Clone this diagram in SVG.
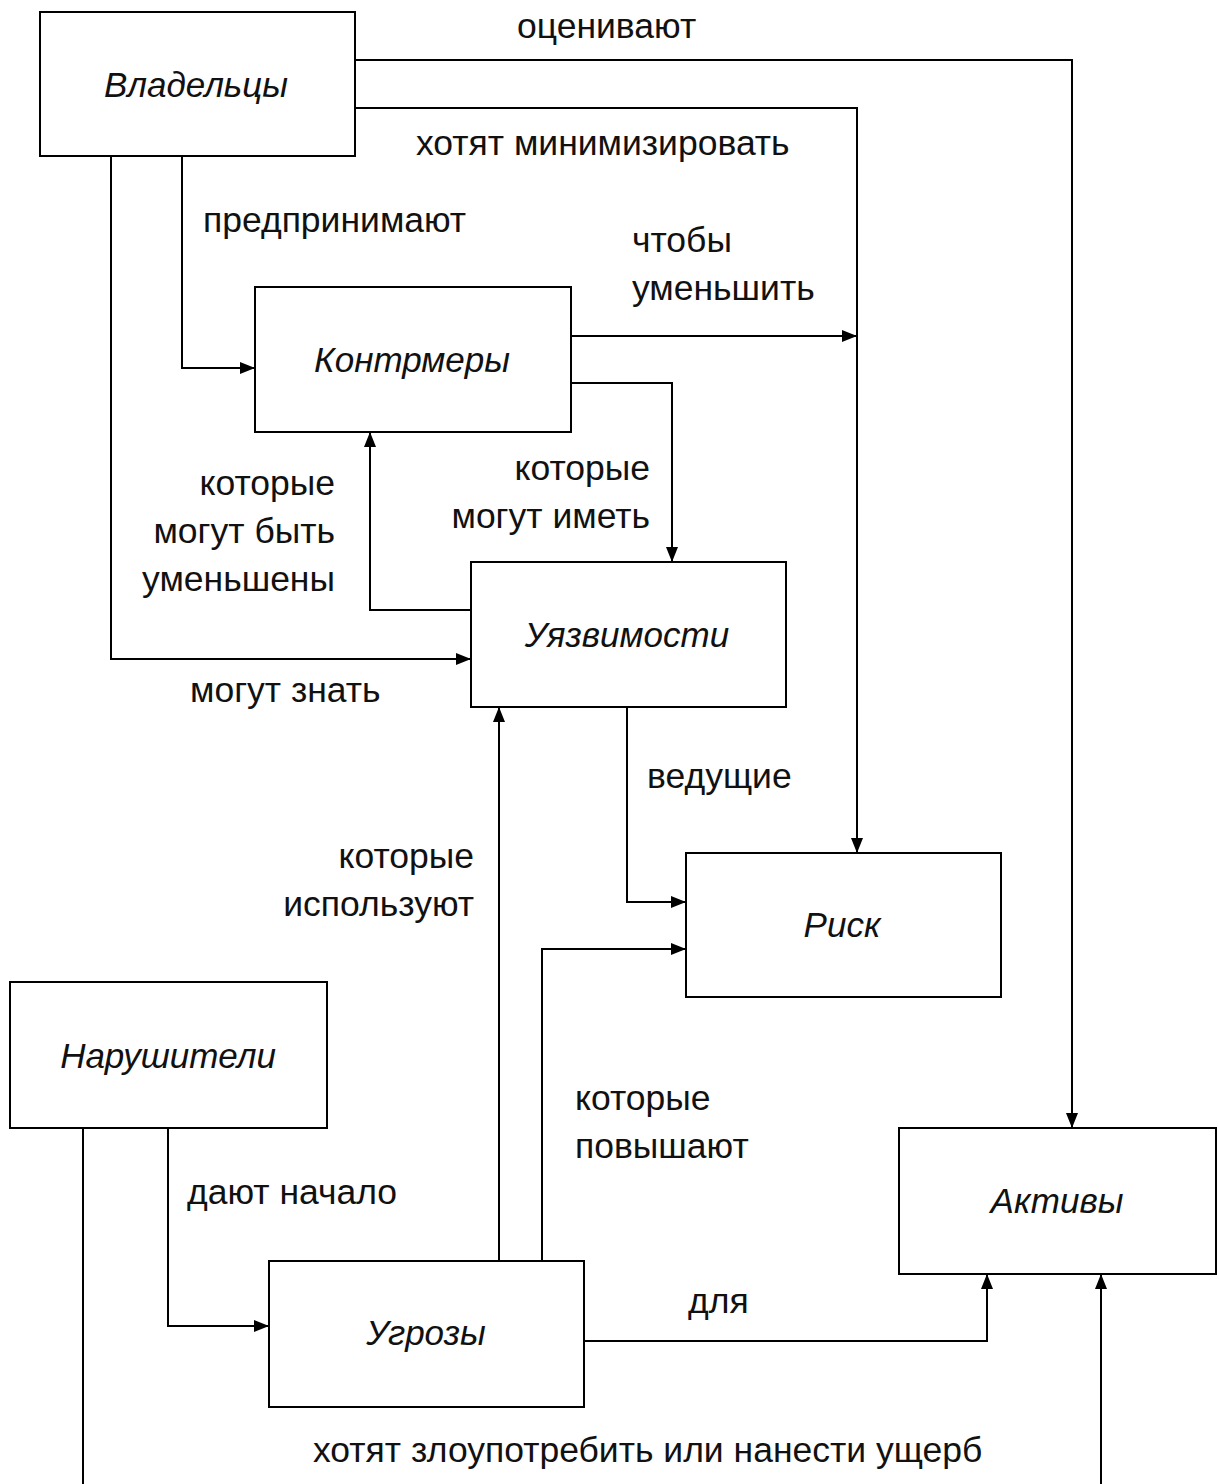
<svg xmlns="http://www.w3.org/2000/svg" width="1219" height="1484" viewBox="0 0 1219 1484">
<style>
.box{fill:#fff;stroke:#000;stroke-width:2}
.node{font-family:"Liberation Sans",Arial,sans-serif;font-style:italic;font-size:35px;fill:#111;text-anchor:middle}
.lbl{font-family:"Liberation Sans",Arial,sans-serif;font-size:35.5px;fill:#111}
.r{text-anchor:end}
.c{fill:none;stroke:#000;stroke-width:2;marker-end:url(#ah)}
</style>
<defs>
<marker id="ah" markerUnits="userSpaceOnUse" markerWidth="16" markerHeight="14" refX="15" refY="7" orient="auto">
<path d="M0,1 L15,7 L0,13 z" fill="#000"/>
</marker>
</defs>
<rect width="1219" height="1484" fill="#fff"/>
<g id="connectors">
<polyline class="c" points="355,60 1072,60 1072,1128"/>
<polyline class="c" points="355,108 857,108 857,853"/>
<polyline class="c" points="182,156 182,368 255,368"/>
<polyline class="c" points="111,156 111,659 471,659"/>
<polyline class="c" points="571,336 857,336"/>
<polyline class="c" points="571,383 672,383 672,562"/>
<polyline class="c" points="471,610 370,610 370,432"/>
<polyline class="c" points="627,707 627,902 686,902"/>
<polyline class="c" points="168,1128 168,1326 269,1326"/>
<polyline class="c" points="499,1261 499,707"/>
<polyline class="c" points="542,1261 542,949 686,949"/>
<polyline class="c" points="584,1341 987,1341 987,1274"/>
<polyline class="c" points="83,1128 83,1494 1101,1494 1101,1274"/>
</g>
<g id="labels">
<text class="lbl" x="517" y="38">оценивают</text>
<text class="lbl" x="416" y="155">хотят минимизировать</text>
<text class="lbl" x="203" y="232">предпринимают</text>
<text class="lbl" x="632" y="252">чтобы</text>
<text class="lbl" x="632" y="300">уменьшить</text>
<text class="lbl r" x="335" y="495">которые</text>
<text class="lbl r" x="335" y="543">могут быть</text>
<text class="lbl r" x="335" y="591">уменьшены</text>
<text class="lbl r" x="650" y="480">которые</text>
<text class="lbl r" x="650" y="528">могут иметь</text>
<text class="lbl" x="190" y="702">могут знать</text>
<text class="lbl" x="647" y="788">ведущие</text>
<text class="lbl r" x="474" y="868">которые</text>
<text class="lbl r" x="474" y="916">используют</text>
<text class="lbl" x="575" y="1110">которые</text>
<text class="lbl" x="575" y="1158">повышают</text>
<text class="lbl" x="187" y="1204">дают начало</text>
<text class="lbl" x="688" y="1313">для</text>
<text class="lbl" x="313" y="1462">хотят злоупотребить или нанести ущерб</text>
</g>
<g id="owners"><rect class="box" x="40" y="12" width="315" height="144"/><text class="node" x="196" y="97">Владельцы</text></g>
<g id="countermeasures"><rect class="box" x="255" y="287" width="316" height="145"/><text class="node" x="412" y="372">Контрмеры</text></g>
<g id="vulnerabilities"><rect class="box" x="471" y="562" width="315" height="145"/><text class="node" x="627" y="647">Уязвимости</text></g>
<g id="risk"><rect class="box" x="686" y="853" width="315" height="144"/><text class="node" x="842" y="937">Риск</text></g>
<g id="violators"><rect class="box" x="10" y="982" width="317" height="146"/><text class="node" x="168" y="1068">Нарушители</text></g>
<g id="threats"><rect class="box" x="269" y="1261" width="315" height="146"/><text class="node" x="426" y="1345">Угрозы</text></g>
<g id="assets"><rect class="box" x="899" y="1128" width="317" height="146"/><text class="node" x="1057" y="1213">Активы</text></g>
</svg>
